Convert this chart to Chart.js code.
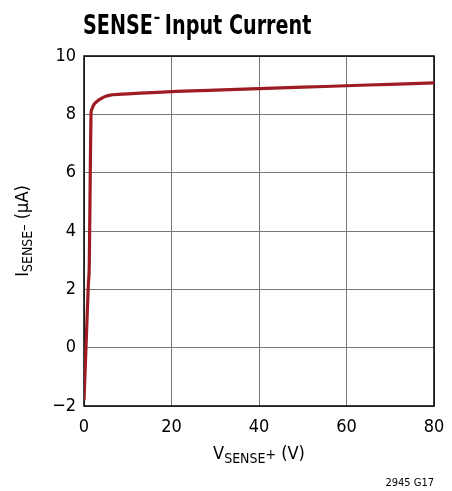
<!DOCTYPE html>
<html>
<head>
<meta charset="utf-8">
<script src="https://cdn.jsdelivr.net/npm/chart.js@4"></script>
<style>
  html, body { margin: 0; padding: 0; background: #fff; }
  #wrap { width: 452px; height: 491px; position: relative; }
</style>
</head>
<body>
<div id="wrap"><canvas id="chart" width="452" height="491"></canvas></div>
<script>
// Data
const vSense = [0, 0.5, 1.0, 1.2, 1.4, 1.6, 1.8, 2.2, 3.0, 4.0, 5.0, 6.0, 10, 20, 30, 40, 50, 60, 70, 80];
const iSense = [-1.8, 0.2, 2.2, 2.8, 5.5, 8.0, 8.18, 8.32, 8.45, 8.55, 8.62, 8.66, 8.7, 8.78, 8.83, 8.88, 8.93, 8.98, 9.03, 9.08];
const xTicks = [0, 20, 40, 60, 80];
const yTicks = [-2, 0, 2, 4, 6, 8, 10];

const FONT = "'Liberation Sans Narrow', 'DejaVu Sans Condensed', 'Liberation Sans', sans-serif";

const points = vSense.map((v, i) => ({ x: v, y: iSense[i] }));

// title, axis titles with subscripts, figure code
const labelsPlugin = {
    id: 'labels',
    afterDraw(chart) {
        const ctx = chart.ctx;
        const area = chart.chartArea;
        ctx.save();
        ctx.fillStyle = '#000';
        ctx.textBaseline = 'alphabetic';

        // title, squeezed to look condensed
        ctx.save();
        ctx.translate(83, 0);
        ctx.scale(0.79, 1);
        ctx.font = "bold 27px " + FONT;
        ctx.textAlign = 'left';
        let x = 0;
        ctx.fillText('SENSE', x, 34);
        x += ctx.measureText('SENSE').width + 1;
        ctx.font = "bold 18px " + FONT;
        ctx.fillText('\u2013', x, 23);
        x += ctx.measureText('\u2013').width + 6;
        ctx.font = "bold 27px " + FONT;
        ctx.fillText('Input Current', x, 34);
        ctx.restore();

        // x axis title
        const xParts = [['V', 18, 0], ['SENSE', 14, 4], ['+', 14, 0], [' (V)', 18, 0]];
        let w = 0;
        xParts.forEach(p => { ctx.font = p[1] + "px " + FONT; w += ctx.measureText(p[0]).width; });
        x = (area.left + area.right) / 2 - w / 2;
        xParts.forEach(p => {
            ctx.font = p[1] + "px " + FONT;
            ctx.fillText(p[0], x, 459 + p[2]);
            x += ctx.measureText(p[0]).width;
        });

        // y axis title
        ctx.translate(28, (area.top + area.bottom) / 2);
        ctx.rotate(-Math.PI / 2);
        const yParts = [['I', 18, 0], ['SENSE', 14, 4], ['\u2013', 14, 0], [' (\u00b5A)', 18, 0]];
        w = 0;
        yParts.forEach(p => { ctx.font = p[1] + "px " + FONT; w += ctx.measureText(p[0]).width; });
        x = -w / 2;
        yParts.forEach(p => {
            ctx.font = p[1] + "px " + FONT;
            ctx.fillText(p[0], x, p[2]);
            x += ctx.measureText(p[0]).width;
        });
        ctx.restore();

        ctx.save();
        ctx.font = "11px " + FONT;
        ctx.textAlign = 'right';
        ctx.fillText('2945 G17', 434, 486);
        ctx.restore();
    }
};

// black frame around the plot
const framePlugin = {
    id: 'frame',
    beforeDatasetsDraw(chart) {
        const a = chart.chartArea;
        const ctx = chart.ctx;
        ctx.save();
        ctx.strokeStyle = '#000';
        ctx.lineWidth = 1.5;
        ctx.strokeRect(a.left, a.top, a.right - a.left, a.bottom - a.top);
        ctx.restore();
    }
};

new Chart(document.getElementById('chart'), {
    type: 'scatter',
    data: {
        datasets: [{
            data: points,
            showLine: true,
            borderColor: '#9e1b22',
            borderWidth: 3.2,
            pointRadius: 0,
            tension: 0.3,
            cubicInterpolationMode: 'monotone'
        }]
    },
    options: {
        responsive: false,
        animation: false,
        layout: { padding: { top: 56, right: 18, left: 0, bottom: 0 } },
        plugins: { legend: { display: false }, tooltip: { enabled: false } },
        scales: {
            x: {
                type: 'linear', min: 0, max: 80,
                afterBuildTicks: s => { s.ticks = xTicks.map(v => ({ value: v })); },
                afterFit: s => { s.height = 85; s.paddingRight = 0; s.paddingLeft = 0; },
                grid: { color: '#777', lineWidth: 1, drawTicks: false },
                border: { display: false },
                ticks: { color: '#000', padding: 11, maxRotation: 0, font: { family: FONT, size: 18 } }
            },
            y: {
                type: 'linear', min: -2, max: 10,
                afterBuildTicks: s => { s.ticks = yTicks.map(v => ({ value: v })); },
                afterFit: s => { s.width = 84; },
                grid: { color: '#777', lineWidth: 1, drawTicks: false },
                border: { display: false },
                ticks: {
                    color: '#000', padding: 8, font: { family: FONT, size: 18 },
                    callback: v => String(v).replace('-', '\u2212')
                }
            }
        }
    },
    plugins: [framePlugin, labelsPlugin]
});
</script>
</body>
</html>
